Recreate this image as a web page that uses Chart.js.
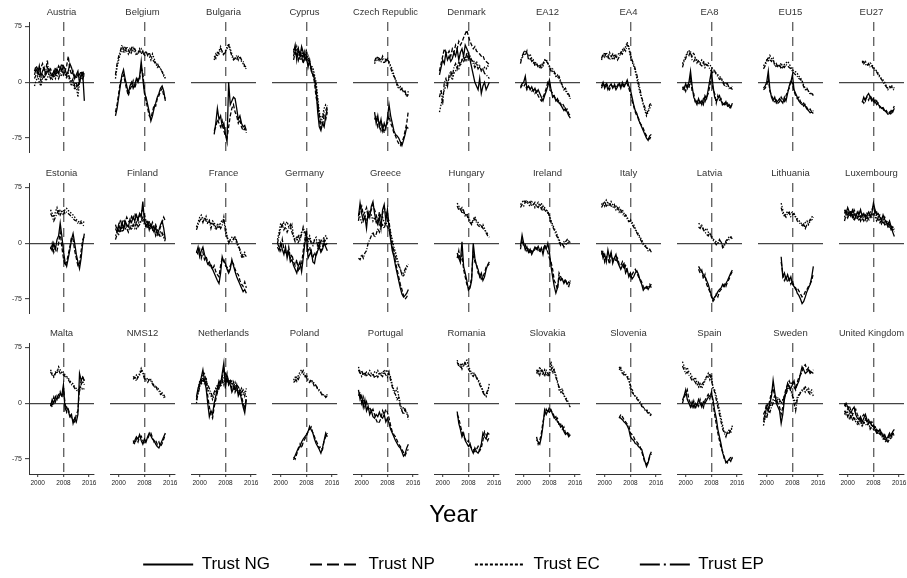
<!DOCTYPE html>
<html>
<head>
<meta charset="utf-8">
<script src="https://cdn.jsdelivr.net/npm/chart.js@4.4.0/dist/chart.umd.min.js"></script>
<style>
  body { margin: 0; background: #fff; width: 907px; height: 578px; overflow: hidden; position: relative; }
  canvas { position: absolute; }
</style>
</head>
<body>
<script>
// panels, left to right, top to bottom
const countries = ['Austria', 'Belgium', 'Bulgaria', 'Cyprus', 'Czech Republic', 'Denmark', 'EA12', 'EA4', 'EA8', 'EU15', 'EU27',
  'Estonia', 'Finland', 'France', 'Germany', 'Greece', 'Hungary', 'Ireland', 'Italy', 'Latvia', 'Lithuania', 'Luxembourg',
  'Malta', 'NMS12', 'Netherlands', 'Poland', 'Portugal', 'Romania', 'Slovakia', 'Slovenia', 'Spain', 'Sweden', 'United Kingdom'];
// first year of each panel's series, values every half year after that
const startYear = [1999, 1999, 2004.5, 2004, 2004, 1999, 1999, 1999, 1999, 1999, 2004.5,
  2004, 1999, 1999, 1999, 1999, 2004.5, 1999, 1999, 2004, 2004.5, 1999,
  2004, 2004.5, 1999, 2004, 1999, 2004.5, 2004, 2004.5, 1999, 1999, 1999];
const seriesNames = ['Trust NG', 'Trust NP', 'Trust EC', 'Trust EP'];
const xTicks = [2000, 2008, 2016];
const yTicks = [-75, 0, 75];

// each: [NG, NP, EC, EP]
const austria = [
  [10,18,12,22,8,15,20,10,14,18,12,8,15,10,18,12,20,15,22,18,10,15,25,20,12,5,10,15,0,8,12,-25],
  [15,22,18,10,20,25,15,12,20,15,18,12,10,20,15,22,18,25,20,15,22,35,18,10,15,8,5,12,10,15,5,10],
  [-5,2,8,0,-5,5,10,2,5,12,8,3,10,5,12,15,8,10,15,12,5,8,2,-5,0,-10,-5,-20,0,5,10,12],
  [5,10,15,8,2,10,5,15,30,10,5,12,8,15,10,5,12,18,10,15,8,12,5,0,5,-5,0,-8,5,10,15,8]];
const belgium = [
  [-45,-35,-20,-5,10,17,5,-5,-15,-5,0,-8,-3,5,0,8,28,5,-15,-20,-30,-40,-52,-45,-35,-28,-20,-15,-8,-5,-12,-25],
  [-40,-30,-15,0,5,10,0,-10,-18,-10,-5,2,-8,0,5,3,20,12,-10,-25,-35,-45,-48,-40,-30,-32,-22,-18,-12,-8,-18,-22],
  [5,20,30,38,45,40,48,42,38,45,40,48,42,36,40,45,38,42,35,40,38,35,30,38,32,26,20,22,18,15,10,5],
  [10,25,35,42,50,45,40,48,44,38,46,42,45,40,38,42,45,40,38,42,36,40,34,30,28,24,26,20,18,14,8,6]];
const bulgaria = [
  [-70,-55,-35,-50,-45,-60,-55,-70,-80,0,-30,-25,-20,-22,-35,-50,-45,-55,-60,-58,-65],
  [-65,-60,-50,-55,-60,-52,-65,-72,-75,-60,-45,-35,-30,-40,-45,-55,-50,-60,-65,-62,-68],
  [30,38,35,42,48,40,36,42,45,52,45,38,32,34,30,35,33,28,25,20,18],
  [35,32,40,38,45,42,38,40,48,50,42,35,30,32,36,30,35,30,28,22,20]];
const cyprus = [
  [40,50,30,45,35,48,40,30,35,20,30,15,10,5,-10,-40,-60,-65,-55,-60,-45,-35],
  [35,45,40,30,42,35,25,38,28,25,20,18,10,0,-20,-30,-50,-62,-58,-45,-50,-40],
  [45,38,48,40,30,45,35,42,30,35,25,22,20,10,0,-20,-40,-50,-45,-35,-30,-32],
  [30,40,35,45,38,30,40,35,42,30,28,20,15,5,-5,-25,-45,-55,-48,-40,-38,-32]];
const czechRepublic = [
  [-40,-55,-45,-60,-50,-65,-55,-62,-48,-30,-45,-55,-65,-70,-72,-75,-80,-85,-78,-70,-60,-62],
  [-50,-45,-60,-55,-65,-58,-68,-60,-55,-45,-55,-60,-68,-72,-78,-82,-85,-80,-75,-65,-55,-38],
  [25,30,35,28,32,30,25,32,30,28,22,18,10,3,-5,-8,-6,-12,-10,-15,-18,-12],
  [28,34,30,32,28,35,30,28,33,25,20,12,8,5,-2,-6,-10,-8,-14,-12,-20,-16]];
const denmark = [
  [10,20,30,25,40,30,35,28,32,40,35,45,30,40,45,35,50,45,40,30,20,10,0,-5,-10,5,-15,-5,0,-10,-5,0],
  [15,25,35,45,40,38,42,35,45,40,50,45,55,50,54,60,65,70,62,55,50,45,48,42,40,38,35,36,30,28,26,24],
  [-40,-30,-20,-10,-5,0,5,10,3,12,15,20,18,25,30,28,35,30,38,32,28,30,25,28,22,20,18,15,20,18,22,20],
  [-20,-10,-30,0,5,-5,10,15,8,20,25,18,28,22,30,35,28,40,32,35,30,25,20,24,18,22,15,18,12,10,8,5]];
const ea12 = [
  [-6,-2,0,8,-8,-5,-10,-6,-12,-8,-14,-10,-15,-20,-25,-18,-12,-5,3,-10,-20,-18,-25,-22,-28,-30,-34,-38,-35,-40,-45,-48],
  [-8,-4,-6,-2,-10,-6,-8,-12,-10,-15,-12,-18,-22,-25,-20,-15,-8,0,-2,-12,-15,-20,-22,-26,-24,-30,-28,-32,-38,-36,-42,-45],
  [30,32,38,43,40,35,38,32,26,28,24,22,20,24,22,28,31,25,22,18,15,12,8,10,5,0,-5,-8,-11,-15,-18,-20],
  [25,35,40,36,42,30,33,28,30,22,26,20,24,18,25,30,28,26,20,15,18,14,10,6,8,2,-4,-10,-8,-14,-16,-22]];
const ea4 = [
  [-5,0,-8,-3,-10,-5,-2,-8,-4,-10,-6,-2,-8,0,-5,-2,3,-5,-10,-20,-30,-38,-42,-50,-55,-60,-65,-70,-75,-78,-72,-70],
  [-8,-2,-5,0,-6,-10,-4,-6,-2,-8,-4,0,-6,-3,-8,0,-2,-8,-15,-25,-32,-40,-45,-48,-55,-58,-62,-68,-72,-75,-76,-72],
  [30,35,40,36,32,40,35,30,38,34,36,40,38,44,42,48,54,45,35,28,22,15,5,-5,-15,-22,-30,-38,-45,-40,-35,-30],
  [32,38,34,40,36,30,34,38,32,36,30,34,40,38,45,42,50,48,38,30,25,18,10,0,-10,-20,-28,-34,-42,-38,-30,-28]];
const ea8 = [
  [-6,-10,-2,-8,0,15,-5,-20,-25,-30,-22,-28,-25,-30,-18,-22,-10,3,15,-5,-20,-25,-22,-18,-25,-28,-30,-26,-32,-30,-34,-28],
  [-10,-6,-12,-4,-8,5,-12,-15,-28,-25,-30,-24,-30,-22,-26,-20,-15,-5,8,-10,-15,-28,-18,-24,-22,-32,-28,-30,-28,-35,-32,-30],
  [25,30,35,40,43,38,35,40,32,30,28,25,30,28,25,22,26,24,20,18,15,12,10,8,6,2,-2,0,-4,-6,-8,-5],
  [20,28,32,38,36,42,30,28,32,26,30,24,22,28,20,24,22,18,15,12,16,10,8,4,5,0,-4,-6,-2,-8,-6,-10]];
const eu15 = [
  [-8,-5,0,15,-10,-20,-25,-20,-28,-25,-22,-25,-28,-20,-25,-15,-5,0,10,-10,-15,-20,-25,-28,-30,-28,-32,-36,-38,-41,-40,-42],
  [-10,-8,-4,5,-12,-18,-22,-26,-24,-28,-26,-20,-24,-26,-18,-12,-8,3,-2,-12,-18,-22,-20,-26,-28,-32,-30,-34,-38,-36,-40,-38],
  [22,25,30,28,36,32,30,25,20,24,22,26,20,24,26,28,25,20,17,15,14,12,8,6,2,-4,-8,-11,-12,-14,-17,-15],
  [18,22,28,34,30,28,32,22,25,20,24,18,22,20,24,22,20,18,15,12,10,8,5,4,0,-6,-10,-8,-12,-16,-15,-18]];
const eu27 = [
  [-27,-20,-25,-18,-15,-20,-25,-22,-28,-25,-30,-32,-35,-34,-38,-40,-43,-42,-38,-40,-35],
  [-25,-28,-22,-20,-24,-18,-22,-26,-24,-30,-28,-34,-32,-36,-40,-38,-42,-40,-44,-36,-32],
  [29,25,28,24,22,26,24,20,18,15,12,8,5,3,0,-5,-8,-6,-4,-6,-8],
  [26,28,24,22,25,20,22,18,16,14,10,6,4,0,-3,-6,-10,-8,-6,-8,-12]];
const estonia = [
  [-5,-10,0,-8,5,10,27,10,-10,-25,-31,-20,-9,5,13,0,-15,-25,-34,-20,0,13],
  [-8,0,-12,-5,-10,0,15,-5,-20,-30,-25,-15,-5,8,5,-10,-20,-30,-28,-10,5,10],
  [45,40,35,42,48,40,45,42,38,46,47,44,42,40,38,35,32,30,28,30,29,28],
  [40,36,30,35,40,45,38,42,45,40,42,40,38,36,33,31,30,27,26,28,25,22]];
const finland = [
  [20,15,25,18,28,20,30,25,22,32,28,35,30,38,32,40,35,56,30,22,28,18,25,20,15,22,12,18,25,30,20,5],
  [25,18,22,30,26,32,28,35,30,28,36,32,40,35,30,38,42,45,38,30,25,30,22,28,20,25,18,15,22,28,35,30],
  [10,15,12,18,15,20,18,25,22,20,25,22,28,20,25,30,28,32,25,22,30,25,20,22,18,15,12,10,15,12,8,2],
  [5,12,18,15,22,18,25,20,15,22,18,25,20,28,22,25,30,35,28,25,20,28,24,18,22,10,15,12,8,14,10,5]];
const france = [
  [-13,-5,-18,-10,-5,-15,-22,-28,-25,-31,-35,-40,-45,-50,-54,-40,-18,-25,-27,-35,-40,-35,-22,-30,-38,-45,-50,-55,-60,-65,-62,-67],
  [-10,-15,-8,-20,-12,-22,-18,-25,-30,-28,-35,-30,-38,-42,-45,-30,-20,-22,-30,-32,-38,-30,-25,-28,-35,-40,-42,-50,-55,-58,-52,-60],
  [22,28,35,38,32,30,36,28,31,25,30,28,22,25,20,28,31,30,22,10,2,5,8,5,7,0,-5,-10,-18,-15,-12,-10],
  [18,25,30,34,28,35,30,26,30,20,28,24,18,22,25,20,24,35,15,8,0,4,2,6,10,3,-2,-8,-14,-20,-15,-18]];
const germany = [
  [-5,-10,0,-8,-15,-5,-20,-10,-25,-22,-30,-35,-40,-30,-25,-38,-20,0,10,-20,-15,-10,-25,-27,-15,-10,-5,-12,-8,0,-5,-10],
  [0,-5,-10,5,-8,-12,-15,-5,-20,-15,-25,-30,-22,-38,-32,-28,-10,5,18,-10,-5,-15,-20,-12,-18,-8,0,-10,-5,5,-2,0],
  [5,15,27,22,28,25,29,22,20,25,10,5,8,0,10,15,18,12,8,5,10,2,0,5,8,-5,0,3,5,8,10,5],
  [0,10,20,25,18,22,15,20,25,15,8,2,5,10,5,12,22,15,10,2,6,0,-3,4,2,-2,6,0,4,2,5,8]];
const greece = [
  [36,54,40,30,36,20,42,35,50,56,40,30,25,36,20,45,52,30,45,20,5,-10,-18,-30,-40,-50,-60,-68,-72,-70,-67,-62],
  [30,45,50,38,42,48,35,40,45,52,45,38,30,42,35,40,48,42,35,30,10,-5,-15,-25,-35,-45,-55,-62,-70,-75,-72,-68],
  [40,35,28,32,38,30,35,42,38,30,35,28,32,25,30,35,28,25,30,25,15,5,-5,-12,-20,-28,-35,-40,-45,-38,-32,-30],
  [-20,-22,-15,-20,-13,-10,0,5,10,15,8,12,20,15,22,25,20,28,22,18,10,0,-10,-18,-25,-30,-35,-42,-40,-35,-30,-28]];
const hungary = [
  [-13,-20,-25,2,-31,-40,-50,-63,-60,-50,0,-20,-30,-35,-45,-40,-50,-45,-35,-29,-25],
  [-20,-10,-25,-15,-35,-45,-55,-60,-58,-45,-10,-25,-28,-40,-42,-48,-45,-40,-32,-30,-28],
  [54,50,45,48,42,38,40,35,30,27,32,36,30,28,25,22,25,20,15,13,12],
  [50,45,48,40,44,36,38,32,28,25,30,33,28,24,22,25,20,18,14,10,8]];
const ireland = [
  [-4,11,0,-9,-5,-12,-8,-15,-10,-5,-8,-4,-10,-6,-15,-4,-8,0,-12,-31,-45,-58,-67,-60,-45,-50,-48,-54,-50,-55,-52,-54],
  [-8,5,-4,-2,-10,-6,-14,-10,-12,-8,-4,-10,-12,-8,-10,-2,-6,-12,-20,-25,-35,-50,-55,-62,-40,-45,-50,-52,-48,-56,-58,-50],
  [52,55,58,54,56,52,50,56,54,48,52,55,50,54,45,48,45,40,38,31,25,20,16,10,5,0,-2,2,0,-2,3,0],
  [48,52,50,56,58,54,56,50,52,55,50,48,52,46,50,45,42,44,35,28,22,18,12,8,2,-3,0,-5,2,5,0,2]];
const italy = [
  [-10,-20,-15,-25,-9,-20,-12,-27,-20,-15,-25,-30,-35,-30,-27,-40,-35,-45,-40,-48,-45,-40,-37,-42,-50,-55,-63,-60,-58,-62,-58,-55],
  [-15,-10,-25,-18,-20,-28,-15,-22,-18,-25,-20,-28,-30,-25,-35,-30,-38,-40,-45,-42,-38,-35,-40,-45,-48,-52,-58,-62,-60,-58,-55,-60],
  [52,55,50,58,54,50,56,52,48,50,45,48,42,45,40,38,35,30,32,28,25,20,15,13,8,5,0,-2,-5,-8,-9,-10],
  [48,52,55,50,52,55,50,48,52,45,48,42,45,40,36,38,32,29,30,25,22,18,14,10,6,2,-2,-4,-6,-10,-8,-12]];
const latvia = [
  [-31,-35,-38,-42,-45,-50,-55,-63,-70,-76,-72,-70,-65,-62,-60,-55,-58,-54,-50,-45,-40,-36],
  [-35,-40,-36,-48,-42,-55,-60,-65,-72,-78,-75,-68,-72,-65,-62,-60,-55,-58,-52,-48,-42,-38],
  [27,25,22,20,18,20,15,13,10,6,4,2,0,4,2,-4,-2,0,5,9,8,10],
  [22,20,24,18,15,12,10,14,8,4,2,-2,0,5,1,-6,-4,3,6,5,8,6]];
const lithuania = [
  [-18,-45,-40,-48,-42,-50,-45,-55,-58,-60,-67,-70,-75,-81,-78,-72,-65,-60,-55,-45,-31],
  [-25,-40,-50,-45,-52,-48,-55,-50,-58,-62,-60,-64,-68,-72,-70,-65,-62,-58,-55,-50,-40],
  [54,45,36,40,43,38,40,42,38,35,33,31,28,25,22,28,30,25,30,35,38],
  [48,40,38,35,40,42,36,38,40,36,30,28,26,24,26,20,25,28,32,30,35]];
const luxembourg = [
  [45,40,48,42,38,45,40,35,42,38,45,36,40,35,38,42,36,40,54,45,38,40,35,30,38,32,28,25,30,22,15,9],
  [40,45,36,44,40,35,45,40,36,42,35,40,38,32,40,36,42,45,50,40,42,35,38,32,30,35,28,30,25,20,22,18],
  [35,40,42,36,44,38,32,40,35,30,38,32,35,38,30,34,38,35,40,36,30,34,28,32,26,30,24,28,20,24,18,20],
  [30,38,34,40,36,42,30,36,32,38,30,35,30,34,36,30,35,40,38,42,35,30,32,26,30,25,28,22,25,18,20,15]];
const malta = [
  [-4,5,0,9,5,12,13,10,25,-9,-5,-10,-18,-15,-27,-20,-25,-15,40,31,35,30],
  [0,-5,8,2,10,5,15,8,20,0,-12,-8,-15,-20,-22,-25,-15,-10,20,30,35,30],
  [45,40,36,42,40,49,45,40,42,38,36,34,30,28,26,22,20,18,20,22,18,20],
  [42,38,35,40,44,45,40,42,38,36,35,32,28,25,24,20,18,15,16,25,30,25]];
const nms12 = [
  [-54,-50,-45,-48,-42,-50,-55,-48,-52,-45,-40,-44,-48,-50,-55,-58,-60,-55,-50,-45,-40],
  [-50,-55,-48,-52,-45,-44,-50,-55,-50,-48,-42,-40,-46,-52,-50,-55,-52,-58,-54,-48,-42],
  [36,33,38,35,40,47,42,36,31,34,30,32,28,24,20,22,18,15,12,11,10],
  [32,35,30,36,38,44,40,33,30,28,32,30,26,22,24,18,16,12,14,8,9]];
const netherlands = [
  [9,20,27,35,45,30,20,0,-18,-10,-15,0,10,20,30,25,40,54,20,36,30,25,15,20,18,25,10,15,5,-5,-13,5],
  [5,15,25,30,38,40,28,10,-5,-15,-20,-5,5,15,22,30,35,45,30,40,25,30,20,28,15,20,12,18,10,0,-8,10],
  [0,18,30,25,32,28,35,20,15,10,5,12,18,25,20,28,32,25,35,30,28,32,26,22,28,20,18,15,20,12,15,18],
  [5,12,22,28,35,25,30,25,20,15,8,15,20,15,25,22,28,35,40,32,25,28,30,24,20,25,22,18,15,18,10,20]];
const poland = [
  [-76,-70,-65,-60,-58,-52,-48,-45,-42,-38,-31,-36,-40,-48,-54,-58,-62,-67,-60,-50,-40,-45],
  [-72,-75,-68,-62,-55,-60,-52,-48,-44,-38,-35,-32,-40,-45,-50,-55,-60,-58,-62,-50,-45,-40],
  [31,35,30,38,42,45,40,36,38,32,31,28,30,26,24,20,18,15,12,10,9,12],
  [28,30,35,32,38,40,44,38,34,30,28,32,28,22,25,18,16,14,10,12,8,10]];
const portugal = [
  [18,5,10,-5,5,-10,-4,-15,-10,-18,-20,-15,-18,-12,-18,-20,-15,-25,-20,-27,-35,-40,-45,-50,-54,-58,-60,-65,-71,-68,-60,-55],
  [10,15,0,8,-5,2,-8,-5,-12,-8,-15,-22,-27,-25,-20,-10,-15,-8,-12,-20,-30,-38,-42,-45,-50,-55,-58,-62,-66,-70,-65,-62],
  [49,42,36,40,38,42,40,44,40,38,42,40,44,38,42,40,45,42,45,40,35,25,18,15,20,10,0,-9,-5,-10,-13,-22],
  [45,40,44,38,42,36,40,38,36,40,34,38,35,40,38,36,42,38,35,42,30,22,15,12,5,8,-5,-10,-15,-8,-12,-18]];
const romania = [
  [-11,-27,-35,-45,-40,-50,-54,-58,-54,-62,-67,-60,-65,-67,-62,-55,-40,-45,-48,-40,-42],
  [-15,-20,-30,-38,-45,-48,-52,-50,-58,-60,-62,-65,-62,-58,-64,-60,-50,-38,-42,-50,-45],
  [58,52,49,54,50,56,58,50,45,40,42,38,36,32,28,22,18,12,9,15,27],
  [55,50,52,46,52,54,50,46,42,38,36,40,34,30,25,20,15,10,12,18,22]];
const slovakia = [
  [-49,-52,-55,-45,-30,-9,-15,-10,-12,-9,-15,-20,-18,-25,-27,-32,-30,-38,-42,-40,-45,-42],
  [-45,-55,-50,-40,-25,-15,-8,-12,-5,-10,-12,-18,-22,-20,-30,-28,-35,-32,-40,-38,-42,-40],
  [45,40,49,42,38,45,40,36,42,56,40,45,38,30,18,15,20,10,8,5,0,-3],
  [40,45,38,46,42,36,44,40,38,45,50,42,35,28,22,18,14,12,6,2,-2,-5]];
const slovenia = [
  [-18,-20,-22,-25,-27,-30,-35,-45,-48,-50,-54,-55,-58,-60,-62,-70,-78,-85,-80,-70,-65],
  [-20,-15,-18,-22,-25,-28,-30,-40,-42,-45,-50,-52,-55,-58,-65,-72,-80,-82,-78,-72,-68],
  [49,45,40,42,38,36,35,18,20,12,9,8,5,0,-2,-5,-9,-8,-12,-15,-18],
  [45,48,42,38,40,35,30,25,15,12,10,6,3,2,-4,-6,-8,-10,-14,-12,-16]];
const spain = [
  [4,10,18,5,0,-5,2,-5,0,-3,5,0,-5,2,0,4,8,10,13,5,-10,-20,-35,-45,-55,-67,-72,-80,-78,-75,-78,-72],
  [0,8,12,18,5,0,-5,3,-8,0,-4,5,-2,-6,4,8,12,6,15,0,-15,-28,-40,-50,-60,-65,-75,-78,-80,-76,-72,-75],
  [56,50,45,48,42,40,35,31,35,28,22,26,20,25,30,35,40,32,38,20,18,10,0,-9,-20,-30,-40,-38,-42,-35,-40,-30],
  [50,45,40,42,38,35,30,32,28,24,28,22,25,28,32,36,35,40,30,22,15,5,-5,-15,-25,-35,-40,-45,-38,-40,-35,-32]];
const sweden = [
  [-22,-15,-5,-10,0,10,31,15,0,-5,-10,-27,-15,5,15,27,22,20,25,30,20,25,30,40,49,45,40,42,45,40,42,40],
  [-15,-10,0,-5,5,15,20,10,5,0,-5,-15,-5,10,20,25,30,25,28,22,18,28,35,38,42,50,52,45,48,42,44,45],
  [-30,-20,-15,-8,-5,0,5,10,8,5,2,0,5,10,15,20,25,18,12,5,0,8,12,15,18,20,15,18,20,15,18,16],
  [-25,-18,-20,-10,-12,-5,0,5,2,8,5,0,3,8,12,18,22,16,10,0,-10,5,10,14,16,18,22,20,15,12,14,10]];
const unitedKingdom = [
  [-4,0,-5,-10,-13,-8,-5,-15,-20,-22,-18,-25,-20,-15,-22,-27,-25,-30,-31,-35,-40,-38,-35,-40,-45,-42,-48,-45,-40,-45,-38,-35],
  [0,-5,-8,-3,-10,-15,-12,-8,-15,-20,-22,-18,-15,-20,-25,-22,-28,-25,-30,-32,-38,-42,-40,-45,-42,-48,-50,-46,-44,-40,-42,-38],
  [-10,-15,-12,-20,-15,-22,-18,-25,-28,-20,-25,-30,-28,-22,-25,-30,-32,-28,-35,-30,-38,-35,-42,-38,-45,-50,-52,-48,-45,-48,-42,-40],
  [-15,-10,-18,-14,-20,-16,-22,-20,-25,-28,-22,-30,-25,-28,-30,-26,-35,-32,-28,-38,-35,-40,-38,-44,-48,-45,-50,-52,-48,-45,-40,-44]];

const panelData = [austria, belgium, bulgaria, cyprus, czechRepublic, denmark, ea12, ea4, ea8, eu15, eu27,
  estonia, finland, france, germany, greece, hungary, ireland, italy, latvia, lithuania, luxembourg,
  malta, nms12, netherlands, poland, portugal, romania, slovakia, slovenia, spain, sweden, unitedKingdom];

const FONT = "'Liberation Sans', Arial, Helvetica, sans-serif";
Chart.defaults.font.family = FONT;

const panelDash = [[], [4, 2], [1.5, 1.5], [4, 1.5, 1, 1.5]];
const legendDash = [[], [12, 5], [3, 2], [20, 4, 2, 4]];
const rowTop = [0, 161, 321];

function addCanvas(left, top, w, h) {
  const c = document.createElement('canvas');
  c.width = w;
  c.height = h;
  c.style.left = left + 'px';
  c.style.top = top + 'px';
  document.body.appendChild(c);
  return c;
}

countries.forEach((name, i) => {
  const col = i % 11;
  const row = Math.floor(i / 11);
  const firstCol = col === 0;
  const lastRow = row === 2;
  const canvas = addCanvas(col * 81, rowTop[row], 100, lastRow ? 173 : 153);

  new Chart(canvas, {
    type: 'line',
    data: {
      datasets: panelData[i].map((vals, s) => ({
        label: seriesNames[s],
        data: vals.map((v, k) => ({ x: startYear[i] + k * 0.5, y: v })),
        borderColor: '#000',
        borderWidth: 1.3,
        borderDash: panelDash[s],
        pointRadius: 0,
        tension: 0,
        fill: false
      }))
    },
    options: {
      responsive: false,
      animation: false,
      events: [],
      layout: { padding: { left: 0, right: 6, top: 0, bottom: 0 } },
      plugins: {
        legend: { display: false },
        tooltip: { enabled: false },
        title: {
          display: true,
          text: name,
          fullSize: false,
          color: '#333',
          font: { size: 9.5, weight: 'normal' },
          padding: { top: 7, bottom: 3.6 }
        }
      },
      scales: {
        x: {
          type: 'linear',
          min: 1997.3,
          max: 2017.5,
          afterBuildTicks: s => { s.ticks = xTicks.map(v => ({ value: v })); },
          afterFit: s => { s.height = lastRow ? 20 : 0; s.paddingLeft = 0; s.paddingRight = 0; },
          ticks: { display: lastRow, autoSkip: false, maxRotation: 0, padding: 2, color: '#222',
            font: { size: 6.5 }, callback: v => String(v) },
          grid: {
            color: c => (c.tick && c.tick.value === 2008) ? '#666' : 'transparent',
            lineWidth: 1.4,
            drawTicks: lastRow,
            tickLength: 3,
            tickColor: '#333',
            tickWidth: 1
          },
          border: { display: lastRow, color: '#333', width: 1, dash: [9, 6] }
        },
        y: {
          min: -95,
          max: 81,
          afterBuildTicks: s => { s.ticks = yTicks.map(v => ({ value: v })); },
          afterFit: s => { s.width = 29; s.paddingTop = 0; s.paddingBottom = 0; },
          ticks: { display: firstCol, padding: 3, color: '#222', font: { size: 7 } },
          grid: {
            color: c => (c.tick && c.tick.value === 0) ? '#444' : 'transparent',
            lineWidth: 1.3,
            drawTicks: firstCol,
            tickLength: 4,
            tickColor: '#333',
            tickWidth: 1
          },
          border: { display: firstCol, color: '#333', width: 1 }
        }
      }
    }
  });
});

// shared x-axis title
new Chart(addCanvas(0, 490, 907, 50), {
  type: 'line',
  data: { datasets: [] },
  options: {
    responsive: false, animation: false, events: [],
    plugins: {
      legend: { display: false },
      tooltip: { enabled: false },
      title: { display: true, text: 'Year', color: '#000', font: { size: 24, weight: 'normal' }, padding: { top: 10.6, bottom: 0 } }
    },
    scales: { x: { display: false }, y: { display: false } }
  }
});

// shared legend (tall canvas so the legend box is not clipped; page hides the overflow)
new Chart(addCanvas(0, 516, 907, 150), {
  type: 'line',
  data: {
    datasets: seriesNames.map((n, s) => ({ label: n, data: [], borderColor: '#000', borderWidth: 2, borderDash: legendDash[s] }))
  },
  options: {
    responsive: false, animation: false, events: [],
    plugins: {
      tooltip: { enabled: false },
      legend: {
        display: true,
        position: 'top',
        align: 'center',
        labels: {
          usePointStyle: true,
          pointStyle: 'line',
          pointStyleWidth: 50,
          padding: 40,
          color: '#000',
          font: { size: 17 },
          generateLabels: chart => chart.data.datasets.map((ds, i) => ({
            text: ds.label,
            fillStyle: 'transparent',
            strokeStyle: '#000',
            lineWidth: 2,
            lineDash: ds.borderDash,
            pointStyle: 'line',
            fontColor: '#000',
            hidden: false,
            datasetIndex: i
          }))
        }
      }
    },
    scales: { x: { display: false }, y: { display: false } }
  }
});
</script>
</body>
</html>
